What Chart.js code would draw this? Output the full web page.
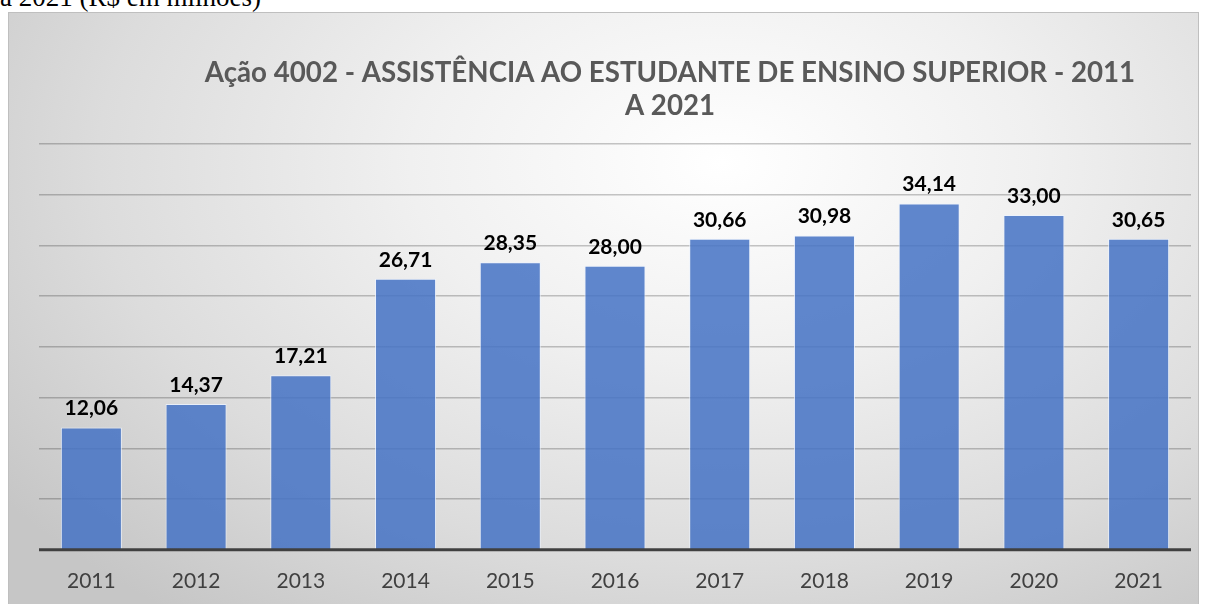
<!DOCTYPE html>
<html>
<head>
<meta charset="utf-8">
<script src="https://cdn.jsdelivr.net/npm/chart.js@4"></script>
<style>
html,body{margin:0;padding:0;width:1206px;height:604px;overflow:hidden;background:#fff;}
#cap{position:absolute;left:0;top:-16px;font-family:"Liberation Serif","DejaVu Serif",serif;font-size:27px;line-height:27px;color:#000;white-space:nowrap;}
#box{position:absolute;left:8px;top:12px;width:1189px;height:600px;border:1px solid #bfbfbf;
background:radial-gradient(ellipse 75% 95% at 60% 25%, #ffffff 0%, #f0f0f0 35%, #dcdcdc 70%, #c6c6c6 100%);}
canvas{position:absolute;left:0;top:0;}
</style>
</head>
<body>
<div id="cap">a 2021 (R$ em milhões)</div>
<div id="box"><canvas id="c" width="1189" height="600"></canvas></div>
<script>
const categories = ["2011","2012","2013","2014","2015","2016","2017","2018","2019","2020","2021"];
const values = [12.06, 14.37, 17.21, 26.71, 28.35, 28.00, 30.66, 30.98, 34.14, 33.00, 30.65];
const titleLines = ["Ação 4002 - ASSISTÊNCIA AO ESTUDANTE DE ENSINO SUPERIOR - 2011", "A 2021"];

const fmt = v => v.toFixed(2).replace('.', ',');

const labelsPlugin = {
  id: 'valueLabels',
  afterDatasetsDraw(chart) {
    const ctx = chart.ctx;
    const meta = chart.getDatasetMeta(0);
    ctx.save();
    ctx.font = 'bold 21px Lato';
    ctx.fillStyle = '#000';
    ctx.textAlign = 'center';
    ctx.textBaseline = 'middle';
    meta.data.forEach((bar, i) => {
      ctx.fillText(fmt(values[i]), bar.x, bar.y - 19);
    });
    ctx.restore();
  }
};

const titlePlugin = {
  id: 'customTitle',
  afterDraw(chart) {
    const ctx = chart.ctx;
    ctx.save();
    ctx.font = 'bold 27.7px Lato';
    ctx.fillStyle = '#595959';
    ctx.textAlign = 'center';
    ctx.textBaseline = 'middle';
    const cx = 661;
    ctx.fillText(titleLines[0], cx, 60);
    ctx.fillText(titleLines[1], cx, 93);
    ctx.restore();
  }
};

const axisLinePlugin = {
  id: 'axisLine',
  afterDatasetsDraw(chart) {
    const {ctx, chartArea} = chart;
    ctx.save();
    ctx.strokeStyle = '#404040';
    ctx.lineWidth = 3;
    ctx.beginPath();
    ctx.moveTo(chartArea.left, chartArea.bottom);
    ctx.lineTo(chartArea.right, chartArea.bottom);
    ctx.stroke();
    ctx.restore();
  }
};

new Chart(document.getElementById('c'), {
  type: 'bar',
  data: {
    labels: categories,
    datasets: [{
      data: values,
      backgroundColor: 'rgba(68,114,196,0.85)',
      borderColor: 'rgba(235,242,255,0.8)',
      borderWidth: 1,
      categoryPercentage: 1,
      barPercentage: 0.583
    }]
  },
  options: {
    responsive: false,
    animation: false,
    layout: { padding: { left: 30, right: 7, top: 131, bottom: 0 } },
    plugins: { legend: { display: false }, title: { display: false }, tooltip: { enabled: false } },
    scales: {
      x: {
        grid: { display: false, drawTicks: false },
        border: { display: false },
        ticks: { color: '#404040', font: { family: 'Lato', size: 21 }, padding: 19 }
      },
      y: {
        min: 0, max: 40,
        ticks: { display: false, stepSize: 5 },
        grid: { color: 'rgba(0,0,0,0.22)', lineWidth: 1.5, drawTicks: false },
        border: { display: false }
      }
    }
  },
  plugins: [labelsPlugin, titlePlugin, axisLinePlugin]
});
</script>
</body>
</html>
